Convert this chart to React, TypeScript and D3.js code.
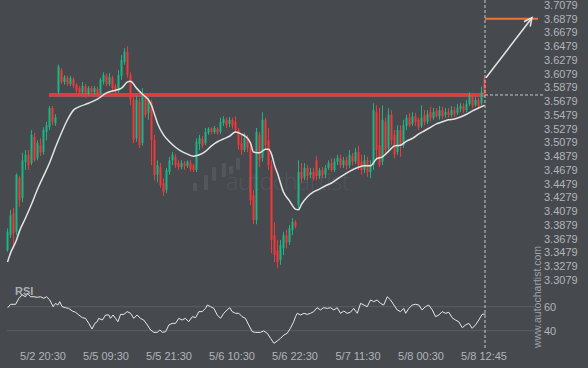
import React from "react";
import * as d3 from "d3";

// ---------- data ----------
const priceTicks = [3.7079, 3.6879, 3.6679, 3.6479, 3.6279, 3.6079, 3.5879, 3.5679, 3.5479, 3.5279, 3.5079, 3.4879, 3.4679, 3.4479, 3.4279, 3.4079, 3.3879, 3.3679, 3.3479, 3.3279, 3.3079];
const timeLabels = ["5/2 20:30", "5/5 09:30", "5/5 21:30", "5/6 10:30", "5/6 22:30", "5/7 11:30", "5/8 00:30", "5/8 12:45"];
const timeLabelIdx = [12, 33, 54, 75, 96, 117, 138, 159];
const rsiTicks = [60, 40];

// [open, high, low, close]
const candles: number[][] = [
  [3.351, 3.383, 3.349, 3.378], [3.373, 3.410, 3.369, 3.402], [3.405, 3.413, 3.354, 3.376], [3.378, 3.463, 3.373, 3.461],
  [3.456, 3.459, 3.414, 3.424], [3.427, 3.493, 3.421, 3.482], [3.480, 3.497, 3.468, 3.490], [3.490, 3.497, 3.468, 3.475],
  [3.478, 3.526, 3.475, 3.519], [3.516, 3.522, 3.480, 3.482], [3.485, 3.511, 3.482, 3.507], [3.504, 3.514, 3.488, 3.493],
  [3.494, 3.530, 3.490, 3.526], [3.523, 3.538, 3.511, 3.533], [3.530, 3.561, 3.526, 3.558], [3.558, 3.561, 3.533, 3.538],
  [3.536, 3.549, 3.532, 3.545], [3.581, 3.621, 3.578, 3.618], [3.613, 3.616, 3.593, 3.596], [3.596, 3.606, 3.592, 3.603],
  [3.602, 3.605, 3.590, 3.593], [3.593, 3.605, 3.590, 3.602], [3.600, 3.603, 3.587, 3.590], [3.592, 3.594, 3.580, 3.583],
  [3.587, 3.590, 3.577, 3.580], [3.581, 3.596, 3.578, 3.590], [3.590, 3.593, 3.573, 3.577], [3.578, 3.590, 3.576, 3.587],
  [3.587, 3.590, 3.578, 3.581], [3.581, 3.590, 3.577, 3.587], [3.586, 3.589, 3.576, 3.578], [3.580, 3.602, 3.577, 3.599],
  [3.596, 3.610, 3.592, 3.606], [3.605, 3.608, 3.590, 3.593], [3.593, 3.609, 3.590, 3.603], [3.602, 3.605, 3.581, 3.587],
  [3.590, 3.593, 3.578, 3.581], [3.583, 3.613, 3.580, 3.606], [3.605, 3.635, 3.599, 3.628], [3.625, 3.645, 3.621, 3.640],
  [3.640, 3.648, 3.602, 3.606], [3.606, 3.610, 3.562, 3.570], [3.570, 3.577, 3.507, 3.511], [3.514, 3.576, 3.509, 3.570],
  [3.567, 3.573, 3.500, 3.504], [3.507, 3.587, 3.503, 3.577], [3.574, 3.578, 3.544, 3.548], [3.551, 3.573, 3.541, 3.570],
  [3.567, 3.570, 3.475, 3.511], [3.511, 3.519, 3.453, 3.461], [3.461, 3.482, 3.450, 3.475], [3.472, 3.478, 3.442, 3.446],
  [3.449, 3.456, 3.430, 3.436], [3.439, 3.471, 3.434, 3.468], [3.465, 3.487, 3.461, 3.482], [3.482, 3.494, 3.475, 3.490],
  [3.487, 3.491, 3.471, 3.475], [3.478, 3.482, 3.468, 3.472], [3.472, 3.482, 3.469, 3.478], [3.478, 3.481, 3.468, 3.474],
  [3.474, 3.482, 3.471, 3.480], [3.478, 3.482, 3.466, 3.469], [3.474, 3.477, 3.465, 3.468], [3.468, 3.514, 3.465, 3.509],
  [3.506, 3.519, 3.497, 3.514], [3.513, 3.517, 3.500, 3.504], [3.507, 3.529, 3.504, 3.523], [3.522, 3.530, 3.519, 3.528],
  [3.528, 3.530, 3.520, 3.523], [3.523, 3.532, 3.520, 3.529], [3.528, 3.530, 3.519, 3.522], [3.523, 3.544, 3.520, 3.538],
  [3.536, 3.546, 3.532, 3.542], [3.541, 3.544, 3.529, 3.533], [3.535, 3.545, 3.530, 3.541], [3.541, 3.544, 3.528, 3.532],
  [3.538, 3.546, 3.523, 3.526], [3.526, 3.529, 3.497, 3.504], [3.507, 3.519, 3.490, 3.497], [3.497, 3.522, 3.494, 3.514],
  [3.514, 3.519, 3.494, 3.500], [3.500, 3.504, 3.417, 3.424], [3.431, 3.439, 3.389, 3.395], [3.395, 3.529, 3.389, 3.523],
  [3.519, 3.523, 3.472, 3.482], [3.485, 3.552, 3.480, 3.541], [3.541, 3.544, 3.497, 3.504], [3.511, 3.529, 3.468, 3.475],
  [3.475, 3.482, 3.347, 3.366], [3.373, 3.392, 3.334, 3.344], [3.351, 3.366, 3.325, 3.334], [3.337, 3.366, 3.330, 3.359],
  [3.354, 3.378, 3.344, 3.373], [3.373, 3.381, 3.354, 3.362], [3.363, 3.388, 3.359, 3.383], [3.381, 3.398, 3.373, 3.392],
  [3.392, 3.395, 3.383, 3.386], [3.417, 3.482, 3.410, 3.465], [3.465, 3.478, 3.450, 3.456], [3.458, 3.478, 3.453, 3.471],
  [3.471, 3.475, 3.453, 3.459], [3.461, 3.471, 3.456, 3.465], [3.465, 3.471, 3.453, 3.456], [3.482, 3.488, 3.453, 3.459],
  [3.459, 3.471, 3.455, 3.468], [3.468, 3.472, 3.456, 3.461], [3.461, 3.475, 3.456, 3.471], [3.471, 3.482, 3.468, 3.478],
  [3.478, 3.485, 3.465, 3.468], [3.468, 3.485, 3.465, 3.480], [3.480, 3.490, 3.475, 3.485], [3.485, 3.490, 3.471, 3.475],
  [3.475, 3.487, 3.471, 3.482], [3.482, 3.487, 3.469, 3.474], [3.475, 3.497, 3.471, 3.490], [3.488, 3.493, 3.475, 3.480],
  [3.480, 3.500, 3.477, 3.494], [3.494, 3.503, 3.468, 3.475], [3.480, 3.490, 3.461, 3.468], [3.468, 3.490, 3.463, 3.482],
  [3.482, 3.487, 3.458, 3.465], [3.465, 3.482, 3.456, 3.475], [3.475, 3.565, 3.468, 3.555], [3.552, 3.562, 3.482, 3.497],
  [3.504, 3.558, 3.472, 3.475], [3.480, 3.562, 3.475, 3.541], [3.538, 3.544, 3.490, 3.497], [3.500, 3.558, 3.494, 3.548],
  [3.548, 3.555, 3.504, 3.511], [3.519, 3.526, 3.485, 3.490], [3.494, 3.533, 3.490, 3.526], [3.526, 3.533, 3.487, 3.504],
  [3.504, 3.541, 3.500, 3.533], [3.532, 3.548, 3.526, 3.544], [3.544, 3.551, 3.530, 3.533], [3.535, 3.552, 3.532, 3.546],
  [3.546, 3.551, 3.532, 3.538], [3.541, 3.544, 3.526, 3.530], [3.532, 3.562, 3.529, 3.544], [3.548, 3.555, 3.533, 3.538],
  [3.538, 3.555, 3.535, 3.549], [3.552, 3.560, 3.539, 3.544], [3.544, 3.558, 3.541, 3.552], [3.554, 3.558, 3.544, 3.546],
  [3.546, 3.561, 3.541, 3.555], [3.555, 3.560, 3.542, 3.546], [3.548, 3.558, 3.544, 3.552], [3.552, 3.558, 3.544, 3.548],
  [3.548, 3.561, 3.545, 3.555], [3.555, 3.560, 3.545, 3.549], [3.551, 3.564, 3.548, 3.558], [3.557, 3.565, 3.552, 3.561],
  [3.561, 3.565, 3.551, 3.555], [3.555, 3.570, 3.552, 3.564], [3.564, 3.581, 3.561, 3.577], [3.576, 3.580, 3.558, 3.562],
  [3.562, 3.574, 3.560, 3.570], [3.570, 3.573, 3.558, 3.561], [3.565, 3.589, 3.562, 3.581], [3.602, 3.602, 3.576, 3.577],
];

// moving average: [bar index, price]
const maPoints: number[][] = [
  [0, 3.334], [1, 3.347], [3, 3.366], [4, 3.379], [6, 3.398], [8, 3.418], [10, 3.440], [12, 3.459], [14, 3.478],
  [16, 3.501], [18, 3.522], [20, 3.541], [22, 3.555], [24, 3.560], [27, 3.565], [30, 3.571], [33, 3.580], [36, 3.584],
  [38, 3.587], [40, 3.596], [41, 3.597], [43, 3.587], [45, 3.578], [47, 3.570], [48, 3.562], [49, 3.549], [50, 3.536],
  [52, 3.519], [54, 3.509], [56, 3.501], [58, 3.495], [60, 3.491], [62, 3.488], [64, 3.490], [66, 3.495], [68, 3.503],
  [70, 3.509], [72, 3.513], [74, 3.517], [76, 3.523], [78, 3.520], [80, 3.514], [81, 3.507], [82, 3.494], [84, 3.493],
  [86, 3.498], [87, 3.498], [88, 3.491], [89, 3.475], [90, 3.463], [92, 3.436], [94, 3.423], [96, 3.411], [97, 3.410],
  [98, 3.418], [100, 3.429], [102, 3.436], [104, 3.440], [106, 3.445], [108, 3.449], [111, 3.458], [114, 3.466],
  [117, 3.472], [119, 3.474], [121, 3.474], [123, 3.484], [125, 3.487], [127, 3.495], [129, 3.503], [131, 3.504],
  [133, 3.510], [135, 3.514], [137, 3.520], [139, 3.525], [141, 3.530], [143, 3.535], [145, 3.538], [147, 3.541],
  [149, 3.542], [151, 3.545], [153, 3.549], [155, 3.554], [157, 3.558], [159, 3.562],
];

// RSI: [bar position, value]
const rsiPoints: number[][] = [
  [0.1, 59.2], [1, 62], [2.7, 62], [3.8, 67], [4.9, 69.8], [6, 68.3], [6.6, 71.1], [7.7, 68.3], [8.8, 68.3], [9.9, 67.8],
  [11, 68.3], [12.1, 67], [13, 68.3], [14.1, 65.6], [15.2, 60], [16, 62.8], [16.8, 61.4], [17.4, 64.2], [18.2, 60], [19.3, 59.2],
  [20.4, 58.6], [21.6, 56.4], [22.7, 55.3], [23.8, 53.1], [24.9, 50.9], [26, 50.3], [27.1, 46.1], [28.2, 41.4], [29.1, 46.1], [29.9, 47.5],
  [30.4, 50.3], [31.6, 48.9], [32.7, 53.1], [33.8, 53.1], [34.3, 50.3], [35.2, 53.1], [36, 50.3], [36.8, 47.5], [37.7, 53.6], [38.8, 53.6],
  [39.9, 55.9], [41, 54.5], [42.1, 50.3], [43.2, 53.1], [44.3, 50.3], [45.4, 48.9], [46.6, 44.8], [47.7, 40.6], [48.8, 38.6], [49.9, 38.6],
  [50.8, 40.6], [51.6, 38.6], [52.7, 39.2], [53.8, 44.8], [54.9, 46.1], [56, 46.1], [57.1, 50.3], [58.2, 48.9], [59.3, 50.3], [60.4, 47.5],
  [61.6, 51.7], [62.7, 50.9], [63.8, 55.9], [64.9, 55.9], [66, 58.6], [66.6, 61.4], [67.7, 60], [68.8, 58.6], [69.9, 53.1], [71, 50.3],
  [72.1, 54.5], [73.2, 57.3], [74.1, 59.2], [74.9, 55.9], [76, 54.5], [77.1, 54.5], [78.2, 51.7], [79.3, 50.3], [80.4, 44.8], [81.6, 39.2],
  [82.7, 38.6], [84.3, 38.6], [85.4, 39.8], [86.6, 37.8], [87.7, 33.6], [88.8, 29.5], [89.9, 31.4], [91, 33.6], [92.1, 36.4], [93.2, 37.8],
  [94.3, 42], [95.4, 47.5], [96, 51.7], [96.6, 54.5], [97.7, 53.1], [98.8, 54.5], [99.9, 53.6], [101, 54.5], [102.1, 55.9], [103.2, 59.2],
  [104.3, 57.3], [105.4, 59.2], [106.6, 58.6], [107.7, 59.2], [108.8, 57.3], [109.9, 59.2], [111, 54.5], [112.1, 56.4], [113.2, 54.5], [114.3, 55.3],
  [115.4, 58.6], [116.6, 54.5], [117.7, 62.8], [118.8, 61.4], [119.9, 60], [121, 65.6], [122.1, 64.2], [123.2, 65.6], [124.3, 62.8], [125.4, 61.4],
  [126.6, 68.3], [127.7, 65.6], [128.8, 61.4], [129.9, 57.3], [131, 55.9], [132.1, 58.6], [132.7, 54.5], [133.8, 58.6], [134.9, 61.4], [136, 62],
  [137.1, 61.4], [138.2, 57.3], [139.3, 60], [140.4, 61.4], [141.6, 57.3], [142.7, 51.7], [143.8, 53.1], [144.9, 55.9], [146, 54.5], [147.1, 55.3],
  [148.2, 50.9], [149.3, 48.9], [150.4, 47.5], [151.6, 42.5], [152.7, 44.8], [153.8, 46.1], [154.9, 42], [156, 44.8], [157.1, 48.9], [158.2, 53.6],
  [159.3, 53.9],
];

const resistanceLevel = 3.577;
const resistanceFromIdx = 14;
const targetLevel = 3.688;
const targetToIdx = 177;
const arrowTipIdx = 175;

// ---------- drawing ----------
const W = 588;
const H = 368;
const BG = "#46494e";
const TXT = "#b1b5ba";
const UP = "#1cb683";
const DOWN = "#f2383a";
const FONT = "'Liberation Sans', Arial, sans-serif";

export default function App() {
  const lastIdx = candles.length - 1;
  const x = d3.scaleLinear().domain([0, lastIdx]).range([7, 484]);
  const y = d3.scaleLinear().domain([3.3079, 3.7079]).range([280, 5]);
  const yR = d3.scaleLinear().domain([40, 60]).range([330.7, 306.7]);

  const maLine = d3
    .line<number[]>()
    .x((d) => x(d[0]) + 0.5)
    .y((d) => y(d[1]))
    .curve(d3.curveMonotoneX);
  const rsiLine = d3
    .line<number[]>()
    .x((d) => x(d[0]) + 0.5)
    .y((d) => yR(d[1]));

  const lastX = x(lastIdx) + 1;
  const last = candles[lastIdx];
  const ax0 = lastX + 1;
  const ay0 = y(last[1]);
  const ax1 = x(arrowTipIdx);
  const ay1 = y(targetLevel) - 1;
  const ang = Math.atan2(ay1 - ay0, ax1 - ax0);
  const hl = 9;
  const hw = 0.45;
  const h1x = ax1 - hl * Math.cos(ang - hw);
  const h1y = ay1 - hl * Math.sin(ang - hw);
  const h2x = ax1 - hl * Math.cos(ang + hw);
  const h2y = ay1 - hl * Math.sin(ang + hw);

  return (
    <svg
      width={W}
      height={H}
      style={{ position: "fixed", left: 0, top: 0, display: "block" }}
      fontFamily={FONT}
    >
      <rect x={0} y={0} width={W} height={H} fill={BG} />

      {/* watermark */}
      <g fill="#53565b">
        <rect x={193} y={183} width={4} height={8} rx={1} />
        <rect x={204} y={175} width={4} height={15} rx={1} />
        <rect x={212} y={167} width={4} height={14} rx={1} />
        <rect x={222} y={163} width={4} height={14} rx={1} />
        <rect x={229} y={166} width={4} height={8} rx={1} />
        <rect x={236} y={158} width={4} height={12} rx={1} />
        <text x={226} y={190} fontSize={23} fontFamily="'Open Sans', sans-serif" fontWeight={300}>
          autochartist
        </text>
      </g>

      {/* RSI grid */}
      {rsiTicks.map((t) => (
        <g key={"r" + t}>
          <line x1={7} x2={535} y1={yR(t)} y2={yR(t)} stroke="#5b5f64" strokeWidth={1} />
          <text x={544} y={yR(t)} dy="0.35em" fontSize={11} fill={TXT}>
            {t}
          </text>
        </g>
      ))}

      {/* resistance line */}
      <line
        x1={x(resistanceFromIdx)}
        x2={lastX}
        y1={y(resistanceLevel)}
        y2={y(resistanceLevel)}
        stroke="#f06060"
        strokeOpacity={0.55}
        strokeWidth={4}
      />
      <line
        x1={x(resistanceFromIdx)}
        x2={lastX}
        y1={y(resistanceLevel)}
        y2={y(resistanceLevel)}
        stroke="#e8383a"
        strokeWidth={2}
      />

      {/* candles */}
      {candles.map((c, i) => {
        const [o, h, l, cl] = c;
        const up = cl >= o;
        const col = up ? UP : DOWN;
        const cx = x(i);
        const top = y(Math.max(o, cl));
        const bh = Math.max(1, Math.abs(y(o) - y(cl)));
        return (
          <g key={i}>
            <line x1={cx + 0.5} x2={cx + 0.5} y1={y(h)} y2={y(l)} stroke={col} strokeWidth={1} />
            <rect x={cx - 0.5} y={top} width={2} height={bh} fill={col} />
          </g>
        );
      })}

      {/* moving average */}
      <path d={maLine(maPoints) || ""} fill="none" stroke="#e4e4e4" strokeWidth={1.5} />

      {/* RSI line */}
      <path d={rsiLine(rsiPoints) || ""} fill="none" stroke="#e8e8e8" strokeWidth={1} />
      <text x={15} y={295} fontSize={11} fontWeight="bold" fill="#a9adb3">
        RSI
      </text>

      {/* dashed guides */}
      <line x1={lastX} x2={lastX} y1={0} y2={349} stroke="#c8c8c8" strokeWidth={1} strokeDasharray="3,2" />
      <line
        x1={lastX}
        x2={543}
        y1={y(resistanceLevel)}
        y2={y(resistanceLevel)}
        stroke="#c8c8c8"
        strokeWidth={1}
        strokeDasharray="3,2"
      />

      {/* target */}
      <line x1={lastX} x2={x(targetToIdx)} y1={y(targetLevel)} y2={y(targetLevel)} stroke="#f2733a" strokeWidth={2} />
      <line x1={ax0} y1={ay0} x2={ax1} y2={ay1} stroke="#e6e6e6" strokeWidth={1.5} />
      <path
        d={`M${h1x},${h1y}L${ax1},${ay1}L${h2x},${h2y}`}
        fill="none"
        stroke="#e6e6e6"
        strokeWidth={1.5}
      />

      {/* price axis */}
      {priceTicks.map((p) => (
        <text key={p} x={544} y={y(p)} dy="0.35em" fontSize={11} fill={TXT}>
          {p.toFixed(4)}
        </text>
      ))}

      {/* time axis */}
      {timeLabels.map((t, i) => (
        <text key={t} x={x(timeLabelIdx[i])} y={356} dy="0.35em" fontSize={11} fill={TXT} textAnchor="middle">
          {t}
        </text>
      ))}

      {/* vertical site text */}
      <text
        transform="translate(541,297) rotate(-90)"
        fontSize={10.5}
        fill="#9da1a7"
        textAnchor="middle"
      >
        www.autochartist.com
      </text>
    </svg>
  );
}
